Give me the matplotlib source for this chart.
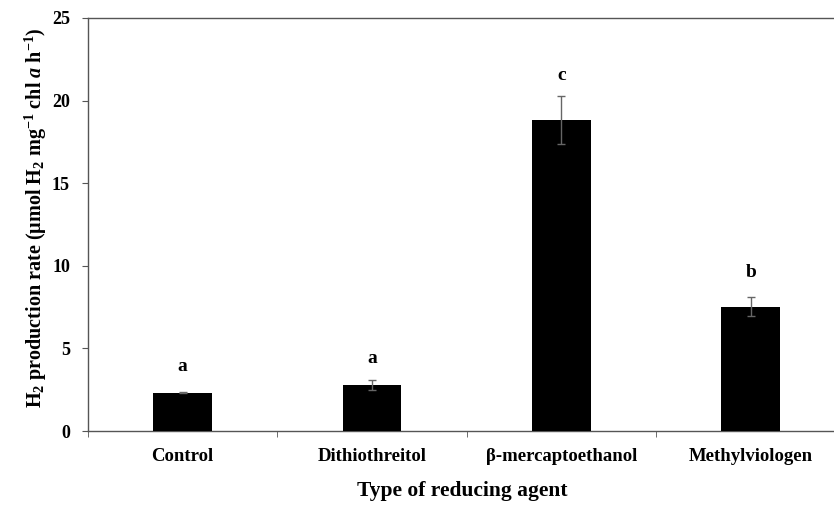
import numpy as np
import matplotlib

matplotlib.use('Agg')

import matplotlib.pyplot as plt

agents = ['Control', 'Dithiothreitol', 'β-mercaptoethanol', 'Methylviologen']
rates = [2.32, 2.78, 18.83, 7.52]
errors = [0.05, 0.29, 1.45, 0.57]
letters = ['a', 'a', 'c', 'b']
letter_y = [3.9, 4.4, 21.5, 9.6]
yticks = [0, 5, 10, 15, 20, 25]

plt.rcParams['font.family'] = 'Liberation Serif'
plt.rcParams['font.weight'] = 'bold'
plt.rcParams['mathtext.fontset'] = 'custom'
plt.rcParams['mathtext.rm'] = 'Liberation Serif:bold'
plt.rcParams['mathtext.it'] = 'Liberation Serif:italic:bold'
plt.rcParams['mathtext.bf'] = 'Liberation Serif:bold'

axcol = '#555555'

fig = plt.figure(figsize=(8.34, 5.05), dpi=100)
ax = fig.add_axes([88 / 834, 1 - 431 / 505, 1 - 88 / 834, 413 / 505])

x = np.arange(len(agents))
ax.bar(x, rates, 0.31, color='black', zorder=3)
ax.errorbar(x, rates, yerr=errors, fmt='none', ecolor='#666666',
            elinewidth=1, capsize=3, capthick=1, zorder=4)

for xi, lab, ly in zip(x, letters, letter_y):
    ax.text(xi, ly, lab, ha='center', va='center', fontsize=14, fontweight='bold')

ax.set_xlim(-0.5, 3.44)
ax.set_ylim(0, 25)
ax.set_yticks(yticks)
ax.set_yticklabels([str(t) for t in yticks], fontsize=13, fontweight='bold')

# category labels at centres, tick marks on the category boundaries
ax.set_xticks(x)
ax.set_xticklabels(agents, fontsize=13.5, fontweight='bold')
ax.tick_params(axis='x', which='major', length=0, pad=12)
ax.set_xticks(np.arange(-0.5, 3.5, 1.0), minor=True)
ax.tick_params(axis='x', which='minor', length=4, color=axcol, direction='out')
ax.tick_params(axis='y', length=4, color=axcol, direction='out', pad=9)

for s in ['left', 'bottom', 'top']:
    ax.spines[s].set_color(axcol)
    ax.spines[s].set_linewidth(1.0)
ax.spines['right'].set_visible(False)

ax.set_xlabel('Type of reducing agent', fontsize=15.5, fontweight='bold')
ax.xaxis.set_label_coords((462 - 88) / 746, -(481 - 431) / 413)
ax.set_ylabel(r'H$_2$ production rate (µmol H$_2$ mg$^{-1}$ chl $a$ h$^{-1}$)',
              fontsize=14.5, fontweight='bold')
ax.yaxis.set_label_coords(-(88 - 49) / 746, 0.5 + 7 / 413)

fig.savefig('out.png', dpi=100)
